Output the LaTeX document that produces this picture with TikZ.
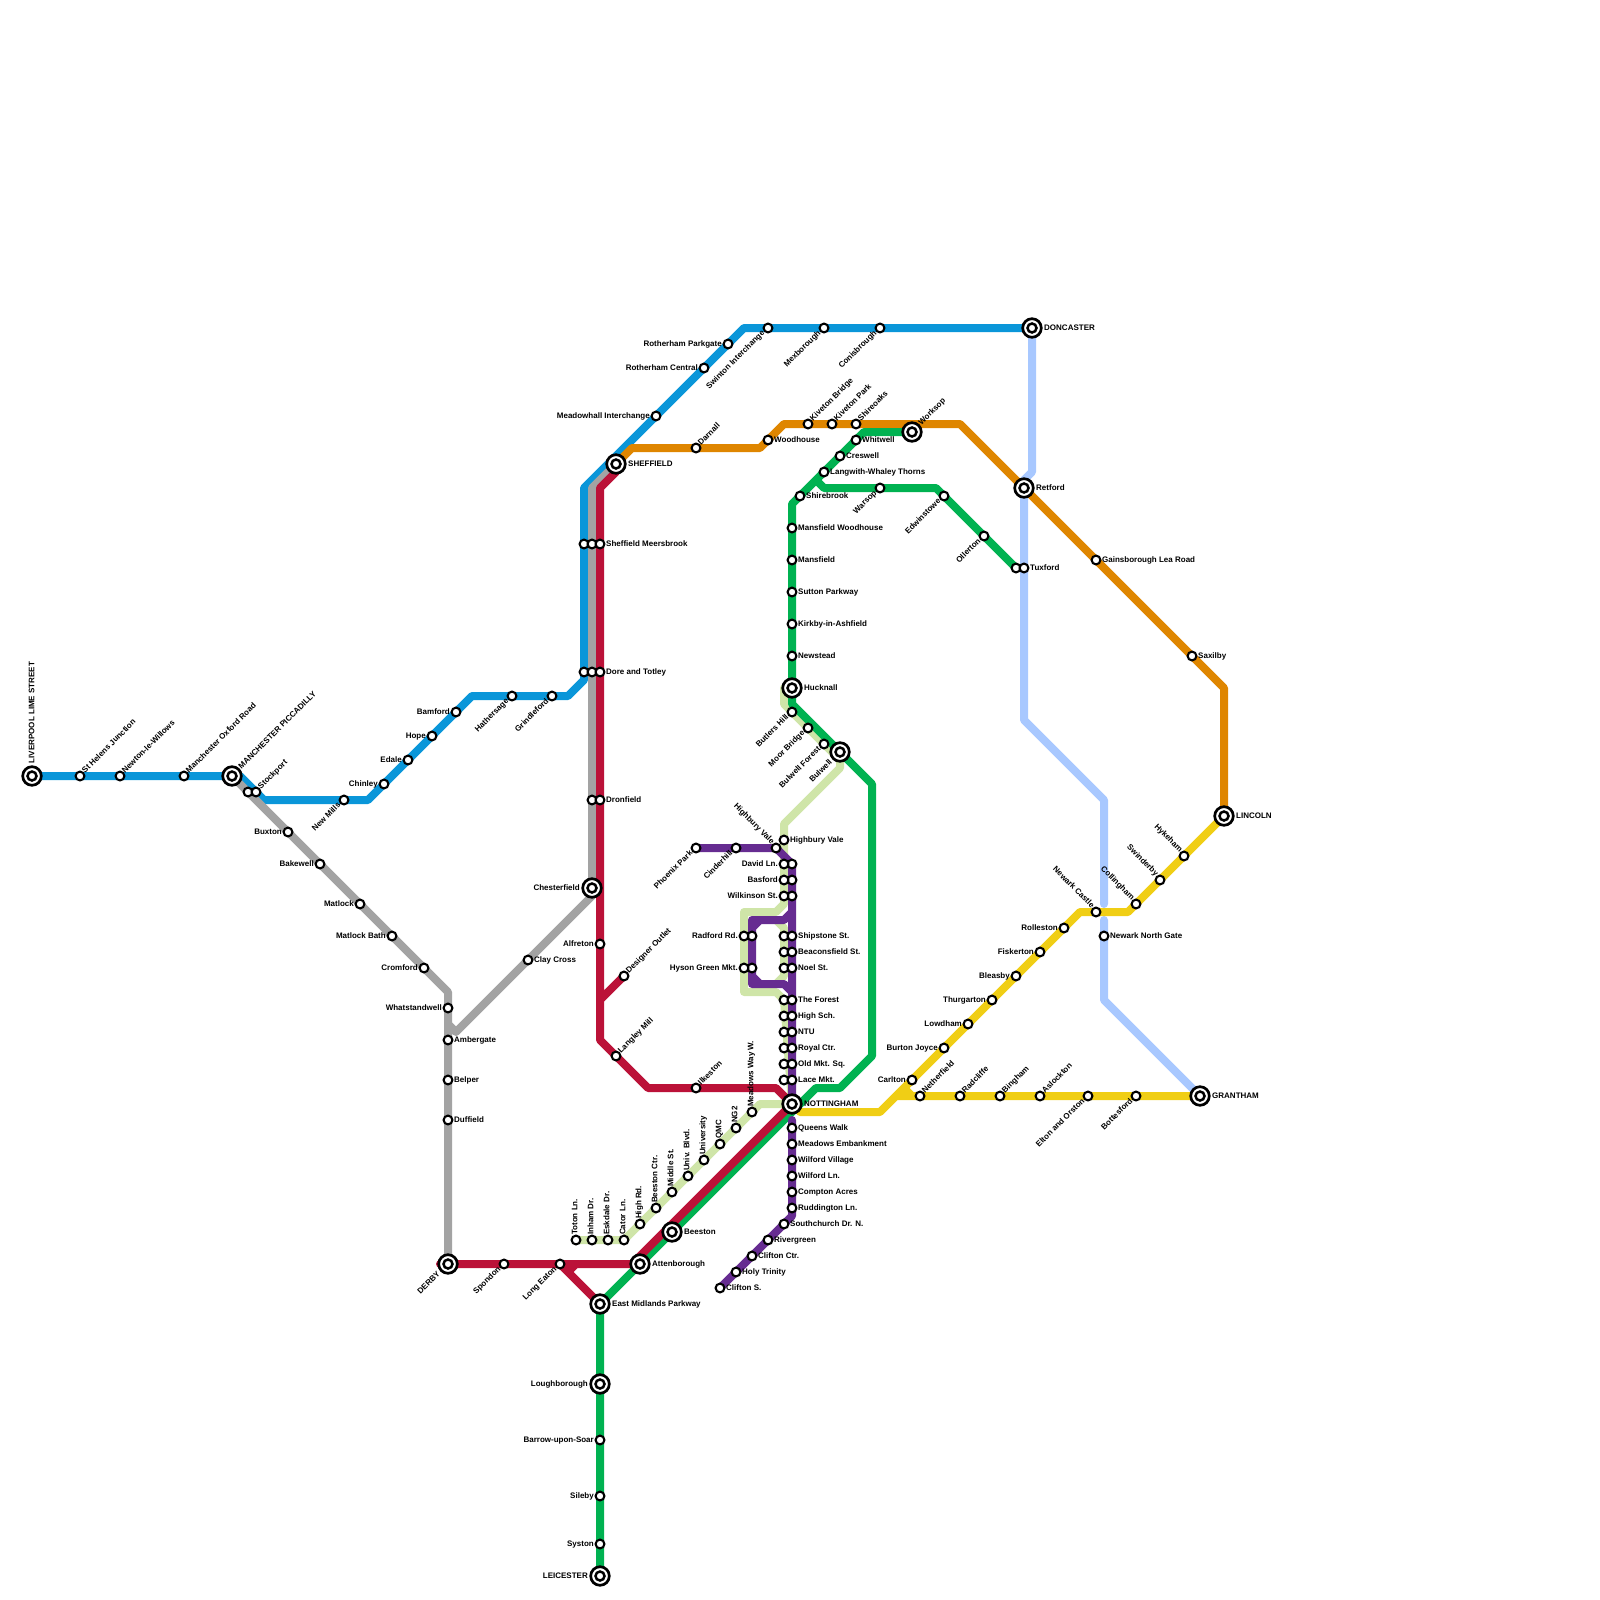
\documentclass[tikz,border=0pt]{standalone}
\usepackage{fontspec}
\setmainfont{Liberation Sans}
\pgfdeclarelayer{lines}
\pgfsetlayers{lines,main}
\definecolor{lblue}{HTML}{0A96D9}
\definecolor{lgrey}{HTML}{A3A3A3}
\definecolor{lorange}{HTML}{DF8600}
\definecolor{lgreen}{HTML}{00B251}
\definecolor{lred}{HTML}{BB1238}
\definecolor{lpurple}{HTML}{662C91}
\definecolor{ltram}{HTML}{CFE5A8}
\definecolor{lsky}{HTML}{A8C8FF}
\definecolor{lyellow}{HTML}{F0CE15}
\tikzset{
	route/.style={line width=8pt, line cap=round, line join=round},
	stn/.style={circle, draw=black, fill=white, line width=2.1pt, minimum size=8.8pt, inner sep=0pt},
	hub/.style={circle, draw=black, fill=white, line width=2.7pt, minimum size=18.6pt, inner sep=0pt},
	hubin/.style={circle, draw=black, fill=white, line width=2.5pt, minimum size=9pt, inner sep=0pt},
	txt/.style={font=\fontsize{8}{9}\selectfont\bfseries, inner sep=0pt, text height=6pt, text depth=1.5pt},
	lblr/.style={txt, anchor=west, xshift=6pt},
	lbll/.style={txt, anchor=east, xshift=-6pt},
	lblur/.style={txt, anchor=west, xshift=3.5pt, yshift=4pt, rotate=45},
	lbldl/.style={txt, anchor=east, xshift=-4.5pt, yshift=-4pt, rotate=45},
	lblul/.style={txt, anchor=east, xshift=-3pt, yshift=5pt, rotate=-45},
	lblu/.style={txt, anchor=west, xshift=-1pt, yshift=5pt, rotate=90},
	hubr/.style={txt, anchor=west, xshift=12pt},
	hubl/.style={txt, anchor=east, xshift=-12pt},
	hubur/.style={txt, anchor=west, xshift=8pt, yshift=8pt, rotate=45},
	hubdl/.style={txt, anchor=east, xshift=-9pt, yshift=-9pt, rotate=45},
	hubu/.style={txt, anchor=west, xshift=0pt, yshift=12.5pt, rotate=90},
}
\begin{document}
\begin{tikzpicture}[x=1pt, y=-1pt]
	\useasboundingbox (0,0) rectangle (1600,1600);
	% bends
	\foreach \n/\x/\y in {b1/240/776, b2/264/800, b3/368/800, b4/472/696, b5/568/696, b6/584/680, b7/584/488, b8/744/328,
		g1/448/992, g2/592/488, g3/592/896, g4/456/1032, g5/448/1024,
		o1/632/448, o2/760/448, o3/784/424, o4/960/424, o5/1224/688,
		e1/864/432, e2/792/504, e3/792/704, e4/872/784, e5/872/1056, e6/840/1088, e7/816/1088, e8/816/480, e9/824/488, e10/936/488,
		r0/440/1264, r1/632/1264, r2/776/1088, r3/648/1088, r4/600/1040, r5/600/488, r6/616/472, r7/600/1000, r8/568/1272, r9/576/1264,
		p1/792/864, p2/792/1120, p3/792/1216, p4/792/912, p5/784/920, p6/752/920, p7/752/984, p8/784/984, p9/792/992, p10/760/920, p11/752/928, p12/752/976, p13/760/984,
		t1/784/688, t2/784/704, t3/840/760, t4/840/768, t5/784/824, t6/784/904, t7/776/912, t8/744/912, t9/744/992, t10/776/992, t11/784/1000, t12/776/920, t13/784/928, t14/784/976, t15/776/984, t16/760/1104,
		s1/1032/472, s2/1024/480, s3/1024/720, s4/1104/800, s5/1104/904, s6/1104/920, s7/1104/1000,
		y1/800/1112, y2/880/1112, y3/1080/912, y4/1128/912, y5/896/1096, y6/904/1088, y7/912/1096}
		\coordinate (\n) at (\x,\y);
	% stations without a label
	\foreach \n/\x/\y in {sk1/248/792, sm1/584/544, sm2/592/544, dt1/584/672, dt2/592/672, dr1/592/800, tx1/1016/568,
		dv2/792/864, bs2/792/880, wk2/792/896, sp1/784/936, bc1/784/952, nl1/784/968, fr1/784/1000, hs1/784/1016, nt1/784/1032, ry1/784/1048, om1/784/1064, lc1/784/1080, rf2/752/936, hy2/752/968}
		\node[stn] (\n) at (\x,\y) {};
	\foreach \n/\x/\y/\t in {amb/448/1040/Ambergate, bel/448/1080/Belper, duf/448/1120/Duffield, cly/528/960/Clay Cross, smb/600/544/Sheffield Meersbrook, dor/600/672/Dore and Totley, dro/600/800/Dronfield, woo/768/440/Woodhouse, whi/856/440/Whitwell, cre/840/456/Creswell, lan/824/472/Langwith-Whaley Thorns, shb/800/496/Shirebrook, mwh/792/528/Mansfield Woodhouse, man/792/560/Mansfield, sut/792/592/Sutton Parkway, kir/792/624/Kirkby-in-Ashfield, nws/792/656/Newstead, hbv/784/840/Highbury Vale, sps/792/936/Shipstone St., bcs/792/952/Beaconsfield St., nls/792/968/Noel St., for/792/1000/The Forest, hsc/792/1016/High Sch., ntu/792/1032/NTU, ryc/792/1048/Royal Ctr., oms/792/1064/Old Mkt. Sq., lcm/792/1080/Lace Mkt., qwk/792/1128/Queens Walk, mem/792/1144/Meadows Embankment, wfv/792/1160/Wilford Village, wfl/792/1176/Wilford Ln., cmp/792/1192/Compton Acres, rud/792/1208/Ruddington Ln., sou/784/1224/Southchurch Dr. N., riv/768/1240/Rivergreen, clc/752/1256/Clifton Ctr., hol/736/1272/Holy Trinity, cls/720/1288/Clifton S., tux/1024/568/Tuxford, gns/1096/560/Gainsborough Lea Road, sax/1192/656/Saxilby, nng/1104/936/Newark North Gate}
		{\node[stn] (\n) at (\x,\y) {}; \node[lblr] (l\n) at (\n.center) {\t};}
	\foreach \n/\x/\y/\t in {chi/384/784/Chinley, eda/408/760/Edale, hop/432/736/Hope, bam/456/712/Bamford, roc/704/368/Rotherham Central, rop/728/344/Rotherham Parkgate, mdw/656/416/Meadowhall Interchange, bux/288/832/Buxton, bak/320/864/Bakewell, mat/360/904/Matlock, mab/392/936/Matlock Bath, cro/424/968/Cromford, wha/448/1008/Whatstandwell, alf/600/944/Alfreton, dav/784/864/David Ln., bas/784/880/Basford, wil/784/896/Wilkinson St., rad/744/936/Radford Rd., hys/744/968/Hyson Green Mkt., car/912/1080/Carlton, bjo/944/1048/Burton Joyce, low/968/1024/Lowdham, thu/992/1000/Thurgarton, ble/1016/976/Bleasby, fis/1040/952/Fiskerton, rol/1064/928/Rolleston, bar/600/1440/Barrow-upon-Soar, sil/600/1496/Sileby, sys/600/1544/Syston}
		{\node[stn] (\n) at (\x,\y) {}; \node[lbll] (l\n) at (\n.center) {\t};}
	\foreach \n/\x/\y/\t in {sth/80/776/St Helens Junction, nwt/120/776/Newton-le-Willows, mox/184/776/Manchester Oxford Road, sto/256/792/Stockport, dar/696/448/Darnall, kvb/808/424/Kiveton Bridge, kvp/832/424/Kiveton Park, sho/856/424/Shireoaks, dso/624/976/Designer Outlet, lgm/616/1056/Langley Mill, ilk/696/1088/Ilkeston, net/920/1096/Netherfield, rcl/960/1096/Radcliffe, bng/1000/1096/Bingham, asl/1040/1096/Aslockton}
		{\node[stn] (\n) at (\x,\y) {}; \node[lblur] (l\n) at (\n.center) {\t};}
	\foreach \n/\x/\y/\t in {nwm/344/800/New Mills, hat/512/696/Hathersage, gri/552/696/Grindleford, swi/768/328/Swinton Interchange, mex/824/328/Mexborough, con/880/328/Conisbrough, war/880/488/Warsop, edw/944/496/Edwinstowe, oll/984/536/Ollerton, but/792/712/Butlers Hill, moo/808/728/Moor Bridge, buf/824/744/Bulwell Forest, pho/696/848/Phoenix Park, cin/736/848/Cinderhill, spo/504/1264/Spondon, lea/560/1264/Long Eaton, elt/1088/1096/Elton and Orston, bot/1136/1096/Bottesford}
		{\node[stn] (\n) at (\x,\y) {}; \node[lbldl] (l\n) at (\n.center) {\t};}
	\foreach \n/\x/\y/\t in {hbw/776/848/Highbury Vale, nec/1096/912/Newark Castle, col/1136/904/Collingham, swd/1160/880/Swinderby, hyk/1184/856/Hykeham}
		{\node[stn] (\n) at (\x,\y) {}; \node[lblul] (l\n) at (\n.center) {\t};}
	\foreach \n/\x/\y/\t in {tot/576/1240/Toton Ln., inh/592/1240/Inham Dr., esk/608/1240/Eskdale Dr., cat/624/1240/Cator Ln., hrd/640/1224/High Rd., bct/656/1208/Beeston Ctr., mid/672/1192/Middle St., unb/688/1176/Univ. Blvd., uni/704/1160/University, qmc/720/1144/QMC, ngt/736/1128/NG2, mdy/752/1112/Meadows Way W.}
		{\node[stn] (\n) at (\x,\y) {}; \node[lblu] (l\n) at (\n.center) {\t};}
	% hubs
	\foreach \n/\x/\y/\t/\o in {she/616/464/SHEFFIELD/hubr, don/1032/328/DONCASTER/hubr, ret/1024/488/Retford/hubr, huc/792/688/Hucknall/hubr, not/792/1104/NOTTINGHAM/hubr, bee/672/1232/Beeston/hubr, att/640/1264/Attenborough/hubr, emp/600/1304/East Midlands Parkway/hubr, lin/1224/816/LINCOLN/hubr, gra/1200/1096/GRANTHAM/hubr, che/592/888/Chesterfield/hubl, lgh/600/1384/Loughborough/hubl, lei/600/1576/LEICESTER/hubl, mpc/232/776/MANCHESTER PICCADILLY/hubur, wor/912/432/Worksop/hubur, bul/840/752/Bulwell/hubdl, der/448/1264/DERBY/hubdl, liv/32/776/LIVERPOOL LIME STREET/hubu}
		{\node[hub] (\n) at (\x,\y) {}; \node[hubin] (\n c) at (\n.center) {}; \node[\o] (l\n) at (\n.center) {\t};}
	\begin{pgfonlayer}{lines}
		\draw[route, lsky] (don.center) -- (s1) -- (s2) -- (s3) -- (s4) -- (s5) (s6) -- (s7) -- (gra.center);
		\draw[route, ltram] (t1) -- (t2) -- (t3) -- (t4) -- (t5) -- (t6) -- (t7) -- (t8) -- (t9) -- (t10) -- (t11) -- (not.center) (t12) -- (t13) -- (t14) -- (t15) (not.center) -- (t16) -- (cat.center) -- (tot.center);
		\draw[route, lblue] (liv.center) -- (mpc.center) -- (b1) -- (b2) -- (b3) -- (b4) -- (b5) -- (b6) -- (b7) -- (b8) -- (don.center);
		\draw[route, lgrey] (mpc.center) -- (g1) -- (der.center) (she.center) -- (g2) -- (g3) -- (g4) -- (g5);
		\draw[route, lorange] (she.center) -- (o1) -- (o2) -- (o3) -- (o4) -- (o5) -- (lin.center);
		\draw[route, lyellow] (y1) -- (y2) -- (y3) -- (y4) -- (lin.center) (y5) -- (gra.center) (y6) -- (y7);
		\draw[route, lgreen] (wor.center) -- (e1) -- (e2) -- (e3) -- (e4) -- (e5) -- (e6) -- (e7) -- (emp.center) -- (lei.center) (e8) -- (e9) -- (e10) -- (tx1.center);
		\draw[route, lred] (r0) -- (r1) -- (not.center) -- (r2) -- (r3) -- (r4) -- (r5) -- (r6) (r7) -- (dso.center) (lea.center) -- (emp.center) (r8) -- (r9);
		\draw[route, lpurple] (pho.center) -- (hbw.center) -- (p1) -- (not.center) (p2) -- (p3) -- (cls.center) (p4) -- (p5) -- (p6) -- (p7) -- (p8) -- (p9) (p10) -- (p11) (p12) -- (p13);
	\end{pgfonlayer}
\end{tikzpicture}
\end{document}
